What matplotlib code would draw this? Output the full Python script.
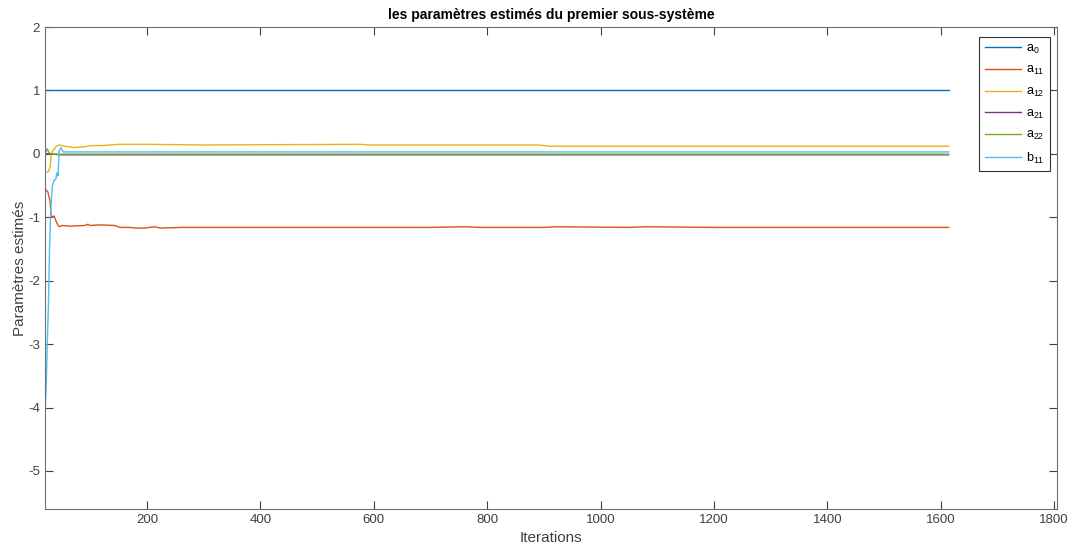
import matplotlib
matplotlib.use("Agg")
import matplotlib.pyplot as plt

plt.rcParams['font.family'] = ['Liberation Sans', 'DejaVu Sans']
plt.rcParams['mathtext.fontset'] = 'custom'
plt.rcParams['mathtext.rm'] = 'Liberation Sans'
plt.rcParams['mathtext.it'] = 'Liberation Sans'
plt.rcParams['mathtext.default'] = 'regular'
plt.rcParams['axes.unicode_minus'] = False

# key points (iteration, value)
a0_it = [20, 1614]
a0_val = [1.0, 1.0]

a11_it = [20, 25, 29, 31, 36, 39, 43, 46, 50, 64, 90, 96, 99, 117, 143, 152, 170, 179,
          196, 214, 223, 260, 400, 700, 760, 790, 900, 920, 1050, 1080, 1200, 1250, 1614]
a11_val = [-0.55, -0.6, -0.75, -1.0, -0.98, -1.05, -1.13, -1.15, -1.13, -1.14, -1.13, -1.11,
           -1.13, -1.12, -1.13, -1.16, -1.16, -1.17, -1.17, -1.15, -1.17, -1.16, -1.16, -1.16,
           -1.15, -1.16, -1.16, -1.15, -1.16, -1.15, -1.16, -1.16, -1.16]

a12_it = [20, 26, 29, 31, 34, 37, 40, 45, 55, 70, 90, 100, 120, 150, 200, 300, 575, 590,
          890, 910, 1614]
a12_val = [-0.3, -0.28, -0.2, 0.0, 0.05, 0.08, 0.12, 0.14, 0.12, 0.10, 0.11, 0.13, 0.13,
           0.15, 0.15, 0.14, 0.15, 0.14, 0.14, 0.12, 0.12]

a21_it = [20, 30, 45, 1614]
a21_val = [0.0, 0.0, -0.015, -0.015]

a22_it = [20, 24, 27, 30, 45, 1614]
a22_val = [0.0, 0.08, 0.02, 0.0, -0.005, -0.005]

b11_it = [20, 22, 24, 26, 28, 30, 33, 36, 39, 41, 43, 45, 48, 52, 1614]
b11_val = [-4.1, -3.7, -3.0, -2.4, -1.5, -0.9, -0.5, -0.42, -0.4, -0.3, -0.35, 0.05, 0.1,
           0.03, 0.03]

series = [
    (a0_it, a0_val, '$a_{0}$', '#0072BD'),
    (a11_it, a11_val, '$a_{11}$', '#D95319'),
    (a12_it, a12_val, '$a_{12}$', '#EDB120'),
    (a21_it, a21_val, '$a_{21}$', '#7E2F8E'),
    (a22_it, a22_val, '$a_{22}$', '#77AC30'),
    (b11_it, b11_val, '$b_{11}$', '#4DBEEE'),
]

fig = plt.figure(figsize=(10.75, 5.47), dpi=100)
ax = fig.add_axes([45 / 1075, 1 - 509 / 547, (1057 - 45) / 1075, (509 - 27) / 547])

for it, val, lab, col in series:
    ax.plot(it, val, color=col, linewidth=1.0, label=lab)

ax.set_xlim(20, 1805)
ax.set_ylim(-5.6, 2)
ax.set_xticks(range(200, 1801, 200))
ax.set_yticks(range(-5, 3))

for s in ax.spines.values():
    s.set_color('#707070')
    s.set_linewidth(0.8)
ax.tick_params(direction='in', length=6, width=0.8, top=True, right=True,
               colors='#404040', labelsize=9.5, labelcolor='#404040')

ax.set_title('les paramètres estimés du premier sous-système', fontsize=10,
             fontweight='bold', pad=6)
ax.set_xlabel('Iterations', fontsize=11, color='#404040', labelpad=4)
ax.set_ylabel('Paramètres estimés', fontsize=11, color='#404040', labelpad=1)

leg = ax.legend(loc='upper right', bbox_to_anchor=(0.993, 0.979), borderaxespad=0,
                fontsize=9, handlelength=2.9, handletextpad=0.4, fancybox=False,
                framealpha=1, borderpad=0.45, labelspacing=0.68)
leg.get_frame().set_edgecolor('#333333')
leg.get_frame().set_linewidth(0.8)

fig.savefig('out.png', dpi=100)
